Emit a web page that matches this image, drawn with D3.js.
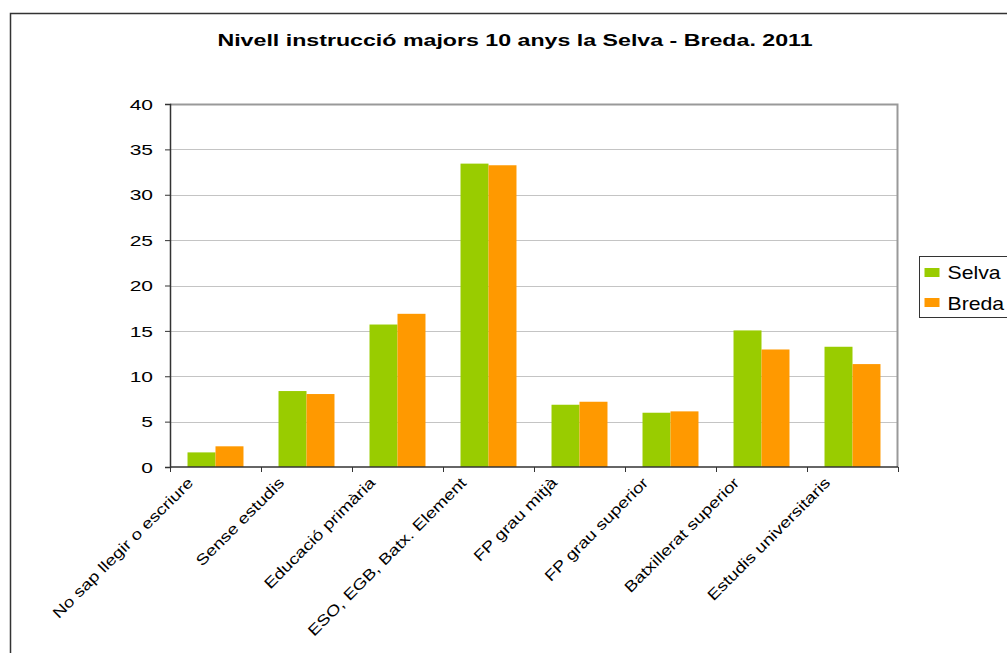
<!DOCTYPE html>
<html>
<head>
<meta charset="utf-8">
<script src="https://cdn.jsdelivr.net/npm/d3@7"></script>
<style>
  body { margin: 0; background: #fff; }
  text { font-family: "Liberation Sans", Arial, sans-serif; }
</style>
</head>
<body>
<div id="chart"></div>
<script>
var categories = ['No sap llegir o escriure', 'Sense estudis', 'Educació primària', 'ESO, EGB, Batx. Element',
  'FP grau mitjà', 'FP grau superior', 'Batxillerat superior', 'Estudis universitaris'];
var seriesNames = ['Selva', 'Breda'];
var selva = [1.61, 8.37, 15.7, 33.43, 6.86, 5.98, 15.05, 13.25];
var breda = [2.28, 8.04, 16.88, 33.25, 7.19, 6.13, 12.95, 11.34];
var yTicks = [0, 5, 10, 15, 20, 25, 30, 35, 40];
var colors = ['#99cc00', '#ff9900'];

var width = 1007, height = 653;
var margin = { top: 104, right: 109, bottom: 186, left: 170 },
  plotW = width - margin.left - margin.right,
  plotH = height - margin.top - margin.bottom;

var svg = d3.select('#chart').append('svg').attr('width', width).attr('height', height);

// outer frame (right and bottom edges fall outside the picture)
svg.append('path')
  .attr('d', 'M10.5,' + height + 'V13.5H' + width)
  .attr('fill', 'none').attr('stroke', '#333').attr('stroke-width', 1.5);

svg.append('text')
  .attr('transform', 'translate(515,46) scale(1.45,1)')
  .attr('text-anchor', 'middle')
  .style('font-size', '16px').style('font-weight', 'bold')
  .text('Nivell instrucció majors 10 anys la Selva - Breda. 2011');

var g = svg.append('g').attr('transform', 'translate(' + margin.left + ',' + margin.top + ')');

var x0 = d3.scaleBand().domain(categories).range([0, plotW]).paddingInner(0.385).paddingOuter(0.1925);
var x1 = d3.scaleBand().domain(seriesNames).range([0, x0.bandwidth()]);
var y = d3.scaleLinear().domain([0, 40]).range([plotH, 0]);

// gridlines
g.selectAll('.grid').data(yTicks.slice(1)).enter().append('line')
  .attr('x1', 0).attr('x2', plotW)
  .attr('y1', function (d) { return Math.round(y(d)) + 0.5; })
  .attr('y2', function (d) { return Math.round(y(d)) + 0.5; })
  .attr('stroke', '#c4c4c4').attr('stroke-width', 1);

// plot border top/right
g.append('path')
  .attr('d', 'M0,0.5H' + (plotW - 0.5) + 'V' + plotH)
  .attr('fill', 'none').attr('stroke', '#999').attr('stroke-width', 2);

// bars
var data = categories.map(function (c, i) { return { cat: c, vals: [selva[i], breda[i]] }; });
var groups = g.selectAll('.grp').data(data).enter().append('g')
  .attr('transform', function (d) { return 'translate(' + x0(d.cat) + ',0)'; });
groups.selectAll('rect').data(function (d) {
  return d.vals.map(function (v, j) { return { name: seriesNames[j], v: v, c: colors[j] }; });
}).enter().append('rect')
  .attr('x', function (d) { return x1(d.name); })
  .attr('width', x1.bandwidth())
  .attr('y', function (d) { return y(d.v); })
  .attr('height', function (d) { return plotH - y(d.v); })
  .attr('fill', function (d) { return d.c; });

// y axis
var yAxis = g.append('g')
  .call(d3.axisLeft(y).tickValues(yTicks).tickSize(5).tickFormat(''));
yAxis.select('.domain').attr('stroke', '#333').attr('stroke-width', 1.5);
yAxis.selectAll('.tick line').attr('stroke', '#333');
yAxis.selectAll('.tick').append('text')
  .attr('transform', 'translate(-17,0) scale(1.45,1)')
  .attr('text-anchor', 'end').attr('dy', '0.36em')
  .attr('fill', '#000').style('font-size', '14.5px')
  .text(function (d) { return d; });

// x axis: ticks at category boundaries
var xAxisG = g.append('g').attr('transform', 'translate(0,' + plotH + ')');
xAxisG.append('line').attr('x1', 0).attr('x2', plotW).attr('y1', 0).attr('y2', 0)
  .attr('stroke', '#333').attr('stroke-width', 1.5);
var step = x0.step();
d3.range(categories.length + 1).forEach(function (i) {
  var xx = Math.round(i * step) + 0.5;
  xAxisG.append('line').attr('x1', xx).attr('x2', xx).attr('y1', 0).attr('y2', 5).attr('stroke', '#333');
});
// labels are drawn narrow-high and stretched along the baseline, like the source
xAxisG.selectAll('.lbl').data(categories).enter().append('text')
  .attr('transform', function (d) {
    return 'translate(' + (x0(d) + x0.bandwidth() / 2 - 25) + ',13) rotate(-45) scale(1.25,1)';
  })
  .attr('text-anchor', 'end')
  .attr('dy', '0.35em')
  .style('font-size', '15px')
  .text(function (d) { return d; });

// legend
var lg = svg.append('g').attr('transform', 'translate(919.5,256.5)');
lg.append('rect').attr('width', 100).attr('height', 61).attr('fill', '#fff').attr('stroke', '#333');
seriesNames.forEach(function (n, i) {
  lg.append('rect').attr('x', 5).attr('y', 11.5 + i * 30).attr('width', 15).attr('height', 9).attr('fill', colors[i]);
  lg.append('text').attr('transform', 'translate(28,' + (22.5 + i * 30.5) + ') scale(1.18,1)')
    .style('font-size', '18px').text(n);
});
</script>
</body>
</html>
